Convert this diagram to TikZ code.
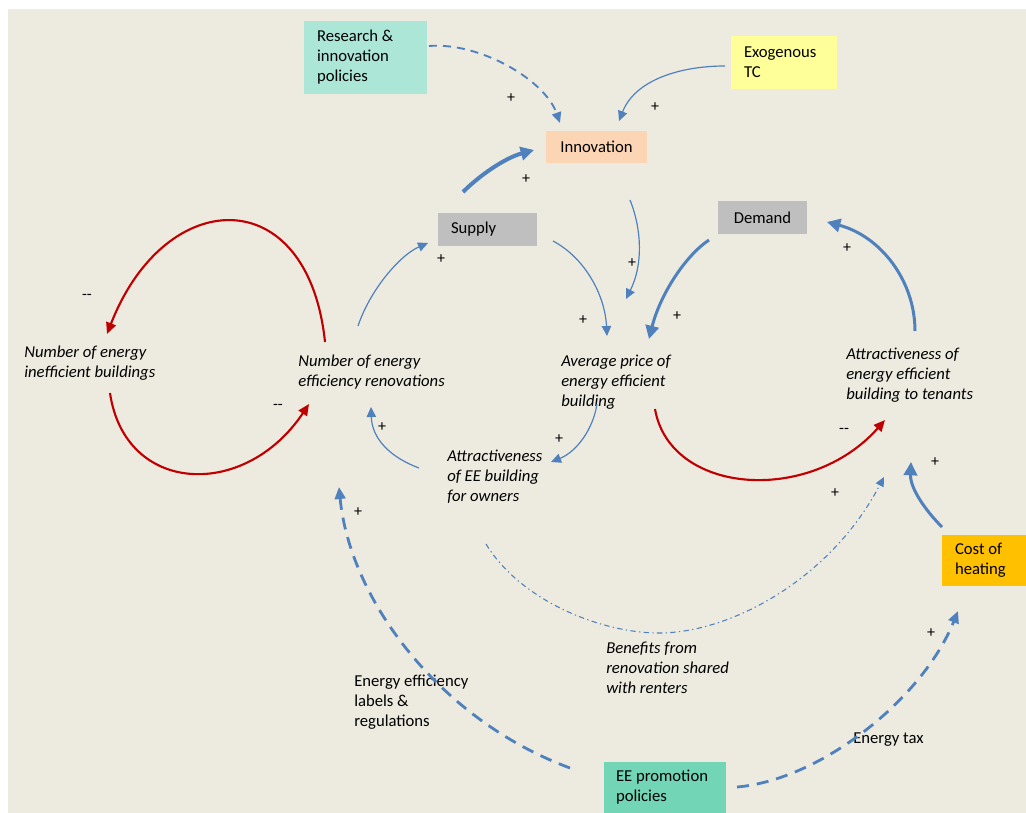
\documentclass[tikz,border=0pt]{standalone}
\usepackage{fontspec}
\setmainfont{Carlito}
\usetikzlibrary{arrows.meta}
\definecolor{canvas}{HTML}{EDEAE0}
\definecolor{eblue}{HTML}{4F81BD}
\definecolor{ered}{HTML}{C00000}
\definecolor{teal1}{HTML}{ABE6D7}
\definecolor{teal2}{HTML}{72D6B6}
\definecolor{lemon}{HTML}{FFFF99}
\definecolor{peach}{HTML}{FCD5B5}
\definecolor{greybox}{HTML}{BFBFBF}
\definecolor{amber}{HTML}{FFC000}
\begin{document}
\begin{tikzpicture}[x=0.75pt,y=-0.75pt,
  txt/.style={inner sep=0pt, anchor=west, align=left, font=\fontsize{12.5}{15}\selectfont},
  itxt/.style={txt, font=\fontsize{12.5}{15}\selectfont\itshape},
  box/.style={inner ysep=0pt, align=flush left, font=\fontsize{12.5}{15}\selectfont},
  sgn/.style={inner sep=0pt, font=\fontsize{12}{14}\selectfont},
  link/.style={draw=eblue, line width=0.9pt, -{Triangle[length=7.5pt,width=7pt]}},
  strong/.style={draw=eblue, line width=2.25pt, -{Triangle[length=10pt,width=10pt]}},
  neg/.style={draw=ered, line width=1.6pt, -{Triangle[length=8.5pt,width=7.5pt]}},
  policy/.style={draw=eblue, line width=2.1pt, dash pattern=on 9pt off 6pt, -{Triangle[length=9pt,width=8pt]}},
  rnd/.style={draw=eblue, line width=1.4pt, dash pattern=on 6pt off 4.5pt, -{Triangle[length=8pt,width=7pt]}},
  share/.style={draw=eblue, line width=0.8pt, dash pattern=on 4pt off 2.5pt on 1pt off 2.5pt, -{Triangle[length=7pt,width=6.5pt]}},
]
\useasboundingbox (0,0) rectangle (1026,813);
\fill[white] (0,0) rectangle (1026,813);
\fill[canvas] (8,9) rectangle (1026,813);

% ---- boxed variables
\node[box, fill=teal1, minimum width=92.25pt, minimum height=54.75pt, inner xsep=9.75pt, text width=72.75pt]
  (research) at (365.5,57.5) {Research \&\\innovation\\policies};
\node[box, fill=lemon, minimum width=79.5pt, minimum height=39.75pt, inner xsep=9.75pt, text width=60pt]
  (exo) at (784,62.5) {Exogenous\\TC};
\node[box, fill=peach, minimum width=75.75pt, minimum height=24pt, align=center]
  (innov) at (596.5,147) {Innovation};
\node[box, fill=greybox, minimum width=74.25pt, minimum height=24.75pt, inner xsep=9.75pt, text width=54.75pt]
  (supply) at (487.5,229.5) {Supply};
\node[box, fill=greybox, minimum width=66.75pt, minimum height=24.75pt, align=center]
  (demand) at (762.5,217.5) {Demand};
\node[box, fill=amber, minimum width=63pt, minimum height=38.25pt, inner xsep=9.75pt, text width=43.5pt]
  (heat) at (984,560.5) {Cost of\\heating};
\node[box, fill=teal2, minimum width=91.5pt, minimum height=38.25pt, inner xsep=9pt, text width=73.5pt]
  (promo) at (665,787.5) {EE promotion\\policies};

% ---- free variables
\node[itxt] (ineff) at (24,363) {Number of energy\\inefficient buildings};
\node[itxt] (renov) at (298,372) {Number of energy\\efficiency renovations};
\node[itxt] (price) at (561,382) {Average price of\\energy efficient\\building};
\node[itxt] (tenants) at (846,375) {Attractiveness of\\energy efficient\\building to tenants};
\node[itxt] (owners) at (447,477) {Attractiveness\\of EE building\\for owners};
\node[itxt] (benefit) at (606,668) {Benefits from\\renovation shared\\with renters};
\node[txt] (labels) at (354,702) {Energy efficiency\\labels \&\\regulations};
\node[txt] (tax) at (853,740) {Energy tax};

% ---- connector end points
\coordinate (resOut) at (429,46);   \coordinate (innIn1) at (560,123);
\coordinate (exoOut) at (725,66);   \coordinate (innIn2) at (619,121);
\coordinate (supUp) at (463,192);   \coordinate (innIn3) at (534,150);
\coordinate (innOut) at (630,200);  \coordinate (priIn1) at (626,299);
\coordinate (supOut) at (553,241);  \coordinate (priIn2) at (607,336);
\coordinate (demOut) at (709,240);  \coordinate (priIn3) at (649,339);
\coordinate (tenUp) at (915,331);   \coordinate (demIn) at (827,222);
\coordinate (renUp) at (358,326);   \coordinate (supIn) at (428,243);
\coordinate (ownOut) at (419,468);  \coordinate (renIn1) at (371,407);
\coordinate (priOut) at (597,404);  \coordinate (ownIn) at (551,462);
\coordinate (renTop) at (325,342);  \coordinate (inefIn) at (107,334);
\coordinate (inefOut) at (110,393); \coordinate (renIn2) at (309,404);
\coordinate (priLow) at (655,409);  \coordinate (tenIn1) at (885,420);
\coordinate (ownLow) at (486,544);  \coordinate (benLow) at (659,633);
\coordinate (tenIn2) at (884,477);
\coordinate (proL) at (570,768);    \coordinate (renIn3) at (339,487);
\coordinate (proR) at (737,787);    \coordinate (heatIn) at (958,611);
\coordinate (heatOut) at (942,527); \coordinate (tenIn3) at (911,462);

% ---- connectors
\draw[rnd] (resOut) .. controls (480,42) and (545,80) .. (innIn1);
\draw[link] (exoOut) .. controls (680,66) and (635,80) .. (innIn2);
\draw[strong, line width=3pt] (supUp) .. controls (480,175) and (505,158) .. (innIn3);
\draw[link] (innOut) .. controls (642,230) and (643,265) .. (priIn1);
\draw[link] (supOut) .. controls (585,258) and (605,295) .. (priIn2);
\draw[strong] (demOut) .. controls (685,256) and (660,295) .. (priIn3);
\draw[strong] (tenUp) .. controls (915,280) and (880,236) .. (demIn);
\draw[link] (renUp) .. controls (370,290) and (400,255) .. (supIn);
\draw[link] (ownOut) .. controls (392,458) and (372,440) .. (renIn1);
\draw[link] (priOut) .. controls (593,430) and (576,452) .. (ownIn);
\draw[neg] (renTop) .. controls (308,180) and (165,185) .. (inefIn);
\draw[neg] (inefOut) .. controls (125,495) and (245,500) .. (renIn2);
\draw[neg] (priLow) .. controls (670,495) and (810,505) .. (tenIn1);
\draw[share] (ownLow) .. controls (520,600) and (600,633) .. (benLow)
  .. controls (730,633) and (830,580) .. (tenIn2);
\draw[policy] (proL) .. controls (440,720) and (350,600) .. (renIn3);
\draw[policy] (proR) .. controls (820,780) and (922,700) .. (heatIn);
\draw[strong] (heatOut) .. controls (925,510) and (910,488) .. (tenIn3);

% ---- polarity signs
\foreach \p/\q [count=\i] in {511/98, 655/107, 526/179, 441/259, 632/263, 583/320,
  677/316, 847/248, 382/427, 559/439, 835/493, 935/462, 358/512, 931/633}
  \node[sgn] (plus\i) at (\p,\q) {+};
\node[sgn] (minusA) at (87,297) {-{}-};
\node[sgn] (minusB) at (278,407) {-{}-};
\node[sgn] (minusC) at (844,431) {-{}-};
\end{tikzpicture}
\end{document}
